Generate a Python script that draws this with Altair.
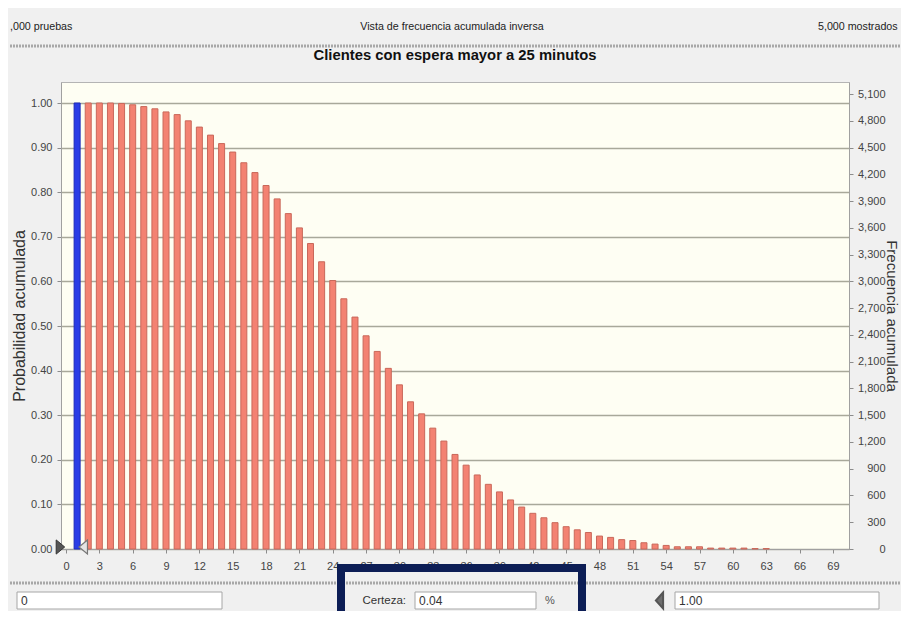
import altair as alt
import pandas as pd

# ---------------- data ----------------
valores = list(range(1, 64))
probabilidad = [
    1.000, 1.000, 1.000, 1.000, 0.999, 0.996, 0.992, 0.987, 0.980, 0.974,
    0.960, 0.946, 0.928, 0.909, 0.890, 0.866, 0.844, 0.815, 0.785, 0.752,
    0.720, 0.685, 0.644, 0.602, 0.561, 0.520, 0.478, 0.443, 0.405, 0.368,
    0.330, 0.303, 0.271, 0.242, 0.212, 0.188, 0.166, 0.145, 0.128, 0.110,
    0.094, 0.080, 0.070, 0.059, 0.050, 0.043, 0.037, 0.029, 0.026, 0.021,
    0.019, 0.014, 0.011, 0.008, 0.005, 0.005, 0.005, 0.002, 0.002, 0.002,
    0.002, 0.001, 0.001,
]
pruebas = 5000
rango_certeza = [-0.5, 1.55]          # positions of the two grabbers
x_ticks = list(range(0, 70, 3))
y_ticks = [i / 10 for i in range(11)]
f_ticks = list(range(0, 5101, 300))

titulo = "Clientes con espera mayor a 25 minutos"
cab_izq = ",000 pruebas"
cab_centro = "Vista de frecuencia acumulada inversa"
cab_der = "5,000 mostrados"
certeza_txt = "0.04"
izq_txt = "0"
der_txt = "1.00"

df = pd.DataFrame({"valor": valores, "prob": probabilidad})
df["frecuencia"] = df["prob"] * pruebas
df["zona"] = ["certeza" if rango_certeza[0] <= v <= rango_certeza[1] else "resto" for v in valores]
grab = pd.DataFrame({"pos": rango_certeza, "lado": ["izq", "der"]})

# ---------------- layout ----------------
W, H = 788, 467
YMAX = H / 446.0
FONT = "Liberation Sans"

xscale = alt.Scale(domain=[0, 70], nice=False, zero=False)
xaxis = alt.Axis(values=x_ticks, title=None, grid=False, tickSize=4,
                 tickColor="#8c8c8c", domainColor="#a0a0a0",
                 labelFont=FONT, labelFontSize=11, labelColor="#444444",
                 labelPadding=7, labelFlush=False, labelOverlap=False)

def one():
    return alt.Chart(pd.DataFrame({"k": [0]}))

bars = alt.Chart(df).mark_bar(size=6, strokeWidth=1).encode(
    x=alt.X("valor:Q", scale=xscale, axis=xaxis),
    y=alt.Y("prob:Q", scale=alt.Scale(domain=[0, YMAX], nice=False),
            axis=alt.Axis(values=y_ticks, format=".2f", title="Probabilidad acumulada",
                          titleFont=FONT, titleFontSize=16, titleFontWeight="normal",
                          titleColor="#333333", titlePadding=3,
                          labelFont=FONT, labelFontSize=11, labelColor="#444444",
                          labelPadding=5, tickSize=4, tickColor="#8c8c8c",
                          labelOverlap=False,
                          domainColor="#a0a0a0", grid=True, gridColor="#a8a89a",
                          gridWidth=1.6)),
    fill=alt.Fill("zona:N", scale=alt.Scale(domain=["certeza", "resto"],
                                            range=["#2a3de6", "#f38272"]), legend=None),
    stroke=alt.Stroke("zona:N", scale=alt.Scale(domain=["certeza", "resto"],
                                                range=["#1c2ab8", "#c9685a"]), legend=None),
)

freq = alt.Chart(df).mark_bar(size=6, opacity=0).encode(
    x=alt.X("valor:Q", scale=xscale, axis=xaxis),
    y=alt.Y("frecuencia:Q", scale=alt.Scale(domain=[0, YMAX * pruebas], nice=False),
            axis=alt.Axis(orient="right", values=f_ticks, format=",d",
                          title="Frecuencia acumulada", titleFont=FONT,
                          titleFontSize=15, titleFontWeight="normal", titleColor="#333333",
                          titleX=37, titleY=H / 2, titleAngle=90, titleAlign="center",
                          titleBaseline="alphabetic",
                          labelFont=FONT, labelFontSize=11,
                          labelColor="#444444", labelAlign="right", labelPadding=32,
                          labelOverlap=False,
                          tickSize=4, tickColor="#8c8c8c", domainColor="#a0a0a0",
                          grid=False)),
)

grab_left = alt.Chart(grab[grab.lado == "izq"]).mark_point(
    shape="M-0.6,-1L0.6,0L-0.6,1Z", size=200, filled=True, fill="#555555",
    stroke="#333333", strokeWidth=1, opacity=1
).encode(x=alt.X("pos:Q", scale=xscale, axis=xaxis), y=alt.value(H - 2))
grab_right = alt.Chart(grab[grab.lado == "der"]).mark_point(
    shape="M0.6,-1L-0.6,0L0.6,1Z", size=200, filled=True, fill="#e4e4e4",
    stroke="#777777", strokeWidth=1.2, opacity=1
).encode(x=alt.X("pos:Q", scale=xscale, axis=xaxis), y=alt.value(H - 2))

def text(t, x, y, align="left", size=12, weight="normal", color="#222222"):
    return one().mark_text(align=align, baseline="middle", font=FONT, fontSize=size,
                           fontWeight=weight, color=color).encode(
        x=alt.value(x), y=alt.value(y), text=alt.value(t))

def rule(x1, x2, y, color="#a8a8a8", width=3, dash=(2, 1)):
    return one().mark_rule(color=color, strokeWidth=width, strokeDash=list(dash)).encode(
        x=alt.value(x1), x2=alt.value(x2), y=alt.value(y))

def box(x1, x2, y1, y2, fill="#ffffff", stroke="#a6a6a6", sw=1):
    return one().mark_rect(fill=fill, stroke=stroke, strokeWidth=sw).encode(
        x=alt.value(x1), x2=alt.value(x2), y=alt.value(y1), y2=alt.value(y2))

header = [
    text(cab_izq, -51, -55, size=10.7),
    text(cab_centro, 391, -55, align="center", size=10.7),
    text(cab_der, 757, -55, size=10.7),
    rule(-51, 860, -36),
    text(titulo, 394, -26, align="center", size=14.8, weight="bold", color="#111111"),
]

footer = [
    rule(-51, 860, 501),
    box(-44, 161, 510, 527),
    text(izq_txt, -40, 518.5, size=12, color="#333333"),
    text("Certeza:", 345, 518.5, align="right", size=11.5, color="#333333"),
    box(354, 475, 510, 527),
    text(certeza_txt, 358, 518.5, size=12, color="#333333"),
    text("%", 489, 518.5, align="center", size=11, color="#555555"),
    one().mark_point(shape="M0.45,-1L-0.45,0L0.45,1Z", size=256, filled=True,
                     fill="#6e6e6e", stroke="#555555", opacity=1).encode(
        x=alt.value(598.5), y=alt.value(518.5)),
    box(614, 818, 510, 527),
    text(der_txt, 618, 518.5, size=12, color="#333333"),
    one().mark_rect(fillOpacity=0, stroke="#0c1d55", strokeWidth=8).encode(
        x=alt.value(280), x2=alt.value(521), y=alt.value(486), y2=alt.value(560)),
]

chart = alt.layer(bars, freq, grab_left, grab_right, *header, *footer).resolve_scale(
    y="independent"
).properties(
    width=W, height=H, background="#f0f0f0",
    padding={"left": 53, "top": 74, "right": 52, "bottom": 62},
    autosize=alt.AutoSizeParams(type="none"),
).configure_view(fill="#fefef3", stroke="#b4b4b4", strokeWidth=1
).configure_axisX(labelOverlap=False)

chart.save("out.html", embed_options={"renderer": "svg", "actions": False})
